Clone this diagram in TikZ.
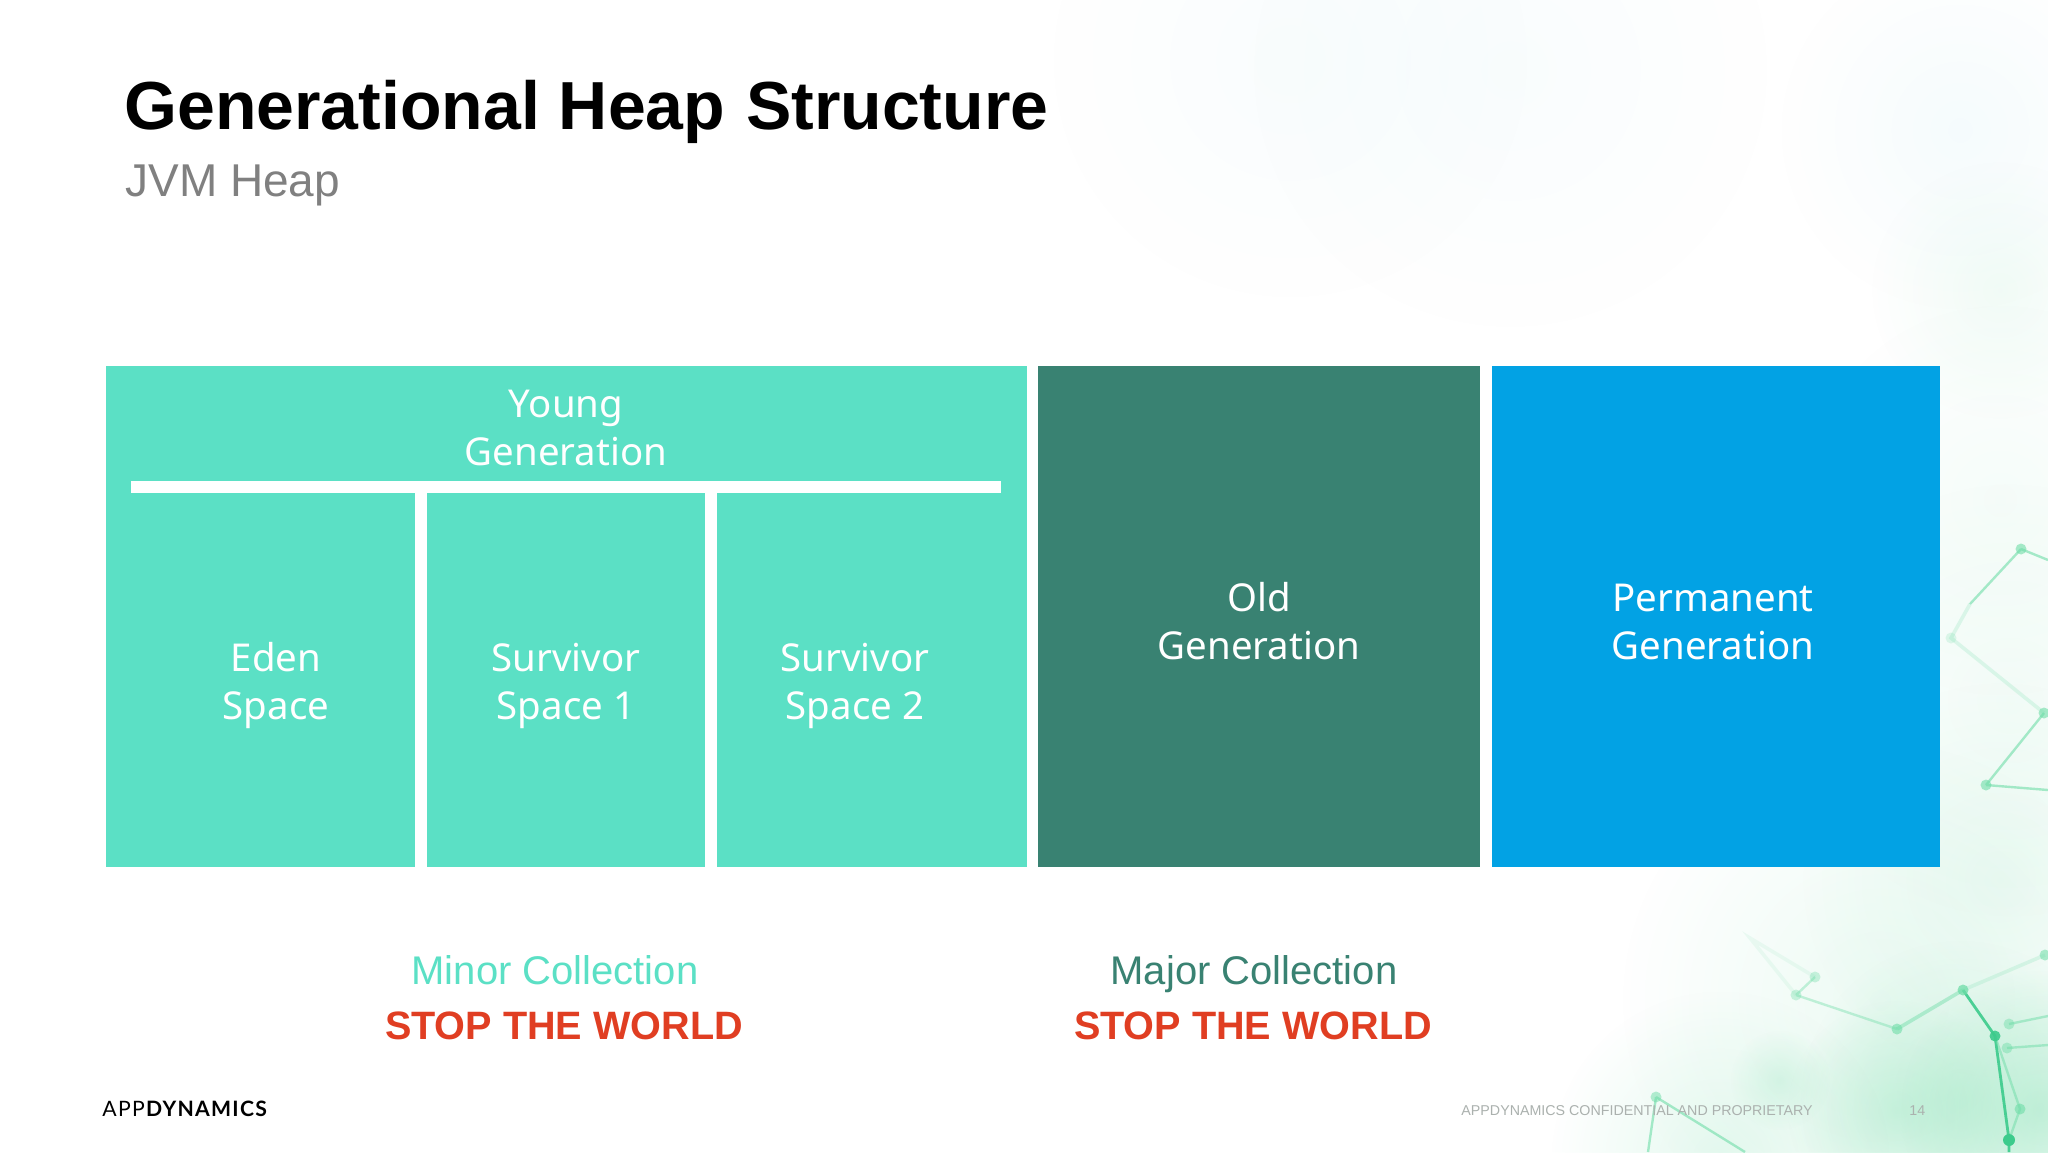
\documentclass[tikz,border=0pt]{standalone}
\usepackage{fontspec}
\usetikzlibrary{fadings}
\setmainfont{Liberation Sans}
\newfontfamily\boxfont{Noto Sans}
\newfontfamily\logofont[LetterSpace=6]{Lato}
\definecolor{mint}{HTML}{5BE0C5}
\definecolor{oldg}{HTML}{398272}
\definecolor{perm}{HTML}{02A2E4}
\definecolor{redt}{HTML}{E03E22}
\definecolor{greyt}{HTML}{808080}
\definecolor{foot}{HTML}{ABB1AE}
\definecolor{molec}{HTML}{6FDDA8}
\definecolor{molecdark}{HTML}{3CCB8C}
\definecolor{tint}{HTML}{7FE0B0}
\definecolor{skyt}{HTML}{CFEFF5}
\tikzfading[name=softglow, inner color=transparent!0, outer color=transparent!100]
\tikzset{x=0.5pt,y=-0.5pt,
  block/.style={fill=#1,draw=none,inner sep=0pt},
  boxlabel/.style={text=white,font=\boxfont\fontsize{19.2}{24}\selectfont,align=center,inner sep=0pt},
  caption/.style={anchor=base,font=\fontsize{20}{24}\selectfont,inner sep=0pt},
  stoptext/.style={anchor=base,text=redt,font=\bfseries\fontsize{19.8}{24}\selectfont,inner sep=0pt},
  bond/.style={draw=molec,line width=1.2pt,opacity=.6},
  faintbond/.style={draw=molec,line width=1.8pt,opacity=.2},
  strongbond/.style={draw=molecdark,line width=1.4pt,opacity=.9},
  glow/.style={fill=tint,path fading=softglow},
  skyglow/.style={fill=skyt,path fading=softglow}}
\begin{document}
\begin{tikzpicture}
\useasboundingbox (0,0) rectangle (2048,1152);
\fill[white] (0,0) rectangle (2048,1152);
% decorative tint
\fill[skyglow,opacity=.12] (1290,60) circle (240);
\fill[skyglow,opacity=.12] (1510,70) circle (260);
\fill[skyglow,opacity=.2] (1960,130) circle (180);
\fill[glow,opacity=.10] (2000,290) circle (130);
\fill[glow,opacity=.07] (2000,500) circle (200);
\fill[glow,opacity=.09] (2010,700) circle (220);
\fill[glow,opacity=.12] (2000,880) circle (200);
\fill[glow,opacity=.14] (1880,1000) circle (260);
\fill[glow,opacity=.30] (1897,1110) circle (110);
\fill[glow,opacity=.40] (2040,1110) circle (140);
\fill[glow,opacity=.25] (1960,1100) circle (160);
\fill[glow,opacity=.20] (1720,1160) circle (170);
\fill[glow,opacity=.22] (1780,1080) circle (50);
% molecule, upper right
\coordinate (u1) at (2021,549); \coordinate (u2) at (1951,638);
\coordinate (u3) at (2044,713); \coordinate (u4) at (1986,785);
\draw[bond] (u1)--(1970,604) (u1)--(2048,560) (u3)--(u4) (u4)--(2048,790);
\draw[faintbond] (1970,604)--(u2)--(u3);
\foreach \p in {u1,u3,u4}{\fill[molec,opacity=.6] (\p) circle (5.5);}
\fill[molec,opacity=.2] (u2) circle (5.5);
% molecule, lower right
\coordinate (a) at (1815,977); \coordinate (b) at (1796,995);
\coordinate (c) at (1897,1029); \coordinate (d) at (1963,990);
\coordinate (e) at (1995,1036); \coordinate (f) at (2009,1024);
\coordinate (g) at (2007,1048); \coordinate (h) at (2020,1109);
\coordinate (i) at (2009,1140); \coordinate (j) at (2045,955);
\coordinate (k) at (1750,938);
\draw[faintbond,opacity=.1] (a)--(k)--(b);
\draw[faintbond] (d)--(j);
\draw[bond,opacity=.4] (b)--(a) (b)--(c);
\draw[faintbond,opacity=.45] (c)--(d);
\draw[strongbond] (d)--(e)--(i)--(2009,1152);
\draw[bond,opacity=.5] (e)--(h)--(i) (f)--(2048,1016) (g)--(2048,1045);
\foreach \p/\o in {a/.35,b/.35,c/.6,d/.75,f/.45,g/.45,h/.6,j/.55}{\fill[molec,opacity=\o] (\p) circle (5.5);}
\fill[molecdark,opacity=.9] (e) circle (5.5);
\fill[molecdark] (i) circle (6);
% molecule, lower middle
\coordinate (l) at (1656,1097);
\draw[bond] (l)--(1648,1152) (l)--(1745,1152);
\fill[molec,opacity=.5] (l) circle (5.5);
% title
\node[anchor=base west,inner sep=0pt,font=\bfseries\fontsize{34}{40}\selectfont] (title) at (124,129) {Generational Heap\hspace{1pt} Structure};
\node[anchor=base west,inner sep=0pt,text=greyt,font=\fontsize{23}{28}\selectfont] (sub) at (125,196) {JVM Heap};
% blocks
\node[block=mint,minimum width=460.25pt,minimum height=250.5pt,anchor=north west] (young) at (106,366) {};
\fill[white] (131,481) rectangle (1001,493);
\fill[white] (415,493) rectangle (427,867);
\fill[white] (704.5,493) rectangle (716.5,867);
\node[block=oldg,minimum width=221pt,minimum height=250.5pt,anchor=north west] (old) at (1038,366) {};
\node[block=perm,minimum width=224pt,minimum height=250.5pt,anchor=north west] (perm) at (1492,366) {};
\node[boxlabel] (yl) at (566,428) {Young\\Generation};
\node[boxlabel] (el) at (276,685.5) {Eden\\Space};
\node[boxlabel] (s1) at (566,685.5) {Survivor\\Space 1};
\node[boxlabel] (s2) at (855,685.5) {Survivor\\Space 2};
\node[boxlabel] (ol) at (1259,621) {Old\\Generation};
\node[boxlabel] (pl) at (1713,622) {Permanent\\Generation};
% captions
\node[caption,text=mint] (minor) at (555,984) {Minor Collection};
\node[stoptext] (stop1) at (564,1039) {STOP THE WORLD};
\node[caption,text=oldg] (major) at (1254,984) {Major Collection};
\node[stoptext] (stop2) at (1253,1039) {STOP THE WORLD};
% footer
\node[anchor=west,inner sep=0pt,font=\logofont\fontsize{10.6}{14}\selectfont] (logo) at (102,1109) {APP\textbf{DYNAMICS}};
\node[anchor=west,inner sep=0pt,text=foot,font=\fontsize{7.13}{9}\selectfont] (conf) at (1461,1111) {APPDYNAMICS CONFIDENTIAL AND PROPRIETARY};
\node[anchor=west,inner sep=0pt,text=foot,font=\fontsize{7.13}{9}\selectfont] (pg) at (1909,1111) {14};
\end{tikzpicture}
\end{document}
